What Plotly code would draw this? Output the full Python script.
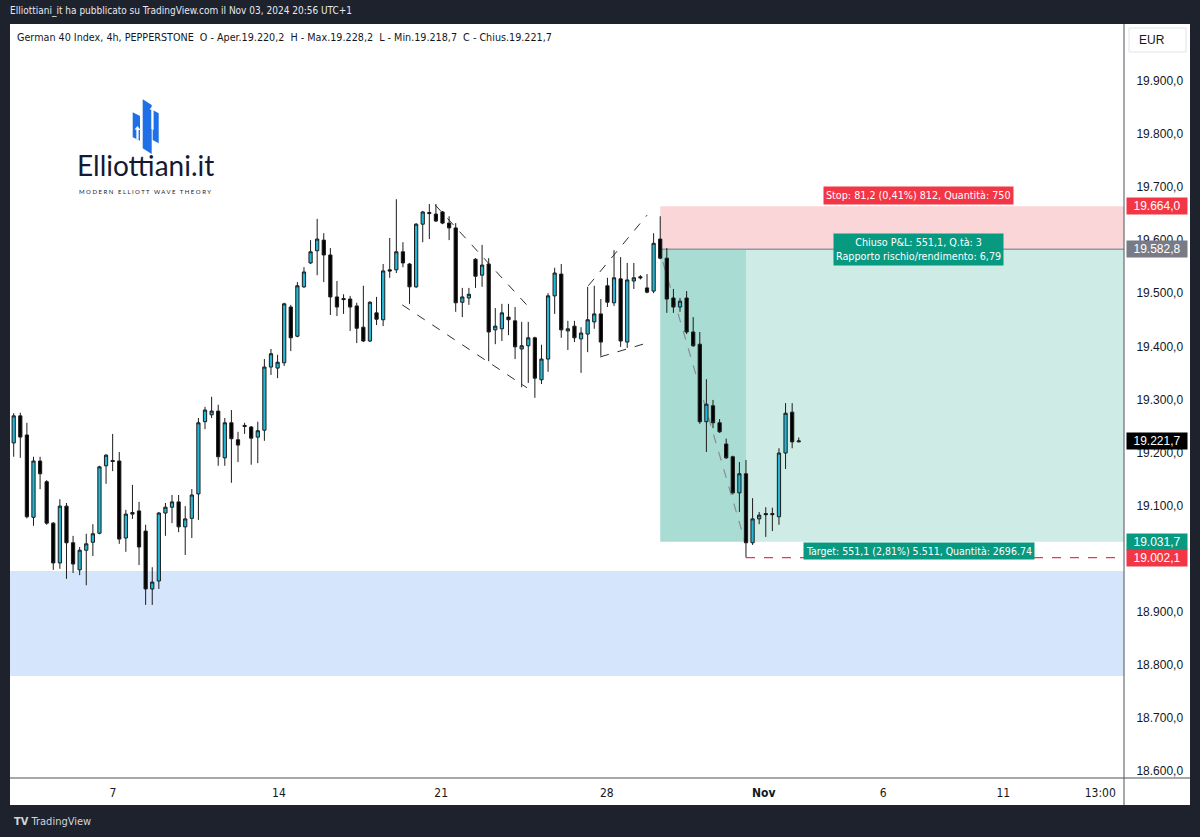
import plotly.graph_objects as go

# ---------------- data ----------------
opens = [19218, 19269, 19233, 19078, 19184, 19145, 19067, 18992, 19099, 19030,
         18979, 19016, 19031, 19048, 19175, 19185, 19184, 19039, 19087, 19090,
         19052, 18943, 18958, 19086, 19097, 19107, 19060, 19076, 19122, 19258,
         19271, 19278, 19190, 19256, 19224, 19251, 19248, 19229, 19242, 19361,
         19359, 19369, 19474, 19419, 19512, 19557, 19580, 19600, 19572, 19493,
         19490, 19489, 19476, 19436, 19410, 19463, 19450, 19544, 19544, 19578,
         19555, 19512, 19630, 19652, 19649, 19653, 19632, 19623, 19483, 19491,
         19564, 19534, 19555, 19431, 19433, 19455, 19448, 19395, 19401, 19416,
         19337, 19376, 19495, 19536, 19429, 19438, 19414, 19423, 19446, 19461,
         19514, 19482, 19527, 19408, 19523, 19531, 19510, 19504, 19602, 19566,
         19491, 19474, 19491, 19427, 19404, 19258, 19288, 19256, 19216, 19192,
         19124, 19160, 19030, 19075, 19085, 19085, 19079, 19199, 19276, 19220.2]
highs = [19274, 19275, 19256, 19192, 19192, 19148, 19069, 19112, 19105, 19043,
         19022, 19047, 19065, 19175, 19197, 19235, 19201, 19092, 19139, 19107,
         19064, 18984, 19088, 19105, 19120, 19120, 19099, 19131, 19265, 19286,
         19305, 19290, 19265, 19280, 19239, 19256, 19250, 19258, 19376, 19395,
         19384, 19482, 19478, 19521, 19549, 19600, 19640, 19613, 19585, 19523,
         19498, 19495, 19482, 19514, 19485, 19493, 19555, 19604, 19677, 19596,
         19557, 19632, 19655, 19668, 19668, 19655, 19645, 19632, 19510, 19510,
         19566, 19591, 19566, 19472, 19480, 19480, 19474, 19446, 19446, 19418,
         19403, 19500, 19548, 19555, 19448, 19448, 19436, 19512, 19514, 19489,
         19529, 19581, 19568, 19557, 19557, 19534, 19536, 19613, 19645, 19585,
         19508, 19491, 19504, 19455, 19427, 19338, 19299, 19263, 19226, 19194,
         19182, 19186, 19114, 19088, 19097, 19096, 19208, 19293, 19293, 19228.2]
lows = [19192, 19190, 19076, 19062, 19131, 19064, 18979, 18981, 18962, 18973,
        18969, 18950, 19005, 19046, 19141, 19165, 19028, 19013, 19075, 18988,
        18913, 18913, 18943, 19043, 19067, 19050, 19007, 19039, 19073, 19244,
        19265, 19175, 19175, 19143, 19182, 19235, 19177, 19180, 19222, 19346,
        19340, 19363, 19391, 19417, 19510, 19555, 19534, 19521, 19459, 19457,
        19461, 19429, 19406, 19408, 19408, 19440, 19438, 19529, 19538, 19549,
        19480, 19510, 19596, 19602, 19634, 19630, 19600, 19465, 19455, 19478,
        19510, 19512, 19372, 19404, 19410, 19421, 19376, 19323, 19331, 19303,
        19329, 19352, 19461, 19416, 19393, 19408, 19350, 19389, 19433, 19382,
        19474, 19476, 19399, 19397, 19508, 19526, 19500, 19500, 19564, 19463,
        19463, 19465, 19423, 19399, 19254, 19201, 19246, 19237, 19188, 19121,
        19088, 19002.1, 19026, 19065, 19041, 19052, 19064, 19169, 19208, 19218.7]
closes = [19269, 19229, 19079, 19184, 19160, 19067, 18992, 19099, 19030, 18990,
          19016, 19028, 19047, 19173, 19195, 19183, 19037, 19084, 19084, 19022,
          18943, 18956, 19086, 19097, 19107, 19060, 19075, 19120, 19256, 19280,
          19278, 19192, 19256, 19226, 19214, 19249, 19227, 19241, 19361, 19386,
          19370, 19480, 19416, 19514, 19540, 19578, 19602, 19572, 19493, 19474,
          19488, 19474, 19434, 19410, 19483, 19451, 19542, 19542, 19578, 19557,
          19512, 19630, 19653, 19650, 19636, 19632, 19623, 19482, 19493, 19498,
          19532, 19553, 19427, 19438, 19463, 19450, 19399, 19401, 19416, 19340,
          19376, 19495, 19538, 19431, 19433, 19416, 19425, 19450, 19461, 19408,
          19483, 19529, 19410, 19525, 19529, 19529, 19502, 19594, 19566, 19489,
          19474, 19485, 19427, 19401, 19258, 19291, 19256, 19239, 19190, 19124,
          19160, 19030, 19075, 19082, 19083, 19083, 19199, 19274, 19220, 19221.7]
bar_index = list(range(len(opens)))

time_tick_pos = [15.05, 40.2, 64.8, 89.9, 113.7, 131.8, 150.0, 164.7]
time_tick_labels = ["7", "14", "21", "28", "<b>Nov</b>", "6", "11", "13:00"]
# 19.000,0 is completely hidden behind the 19.002,1 label in the reference
price_ticks = [18600, 18700, 18800, 18900, 19100, 19200, 19300,
               19400, 19500, 19600, 19700, 19800, 19900]

# trade / zones
stop_level = 19664.0
entry_level = 19582.8
target_level = 19031.7
low_level = 19002.1
last_close = 19221.7
trade_start_bar = 98
trade_hit_bar = 111
demand_zone = [18779, 18977]

# pattern drawings (bar index, price)
channel_upper = [(63.9, 19666), (78.5, 19468)]
channel_lower = [(58.9, 19478), (77.8, 19322)]
wedge_upper = [(87.1, 19514), (96.0, 19647)]
wedge_lower = [(88.9, 19380), (95.4, 19404)]
decline_path = [(98.4, 19559), (110.9, 19030)]

X_MIN, X_MAX = -0.56, 168.3
Y_MIN, Y_MAX = 18587, 20007

# ---------------- geometry helpers (pixel -> paper) ----------------
L, R, T, B = 10, 1124, 24, 778
W, H = 1200, 837
def px(x):
    return (x - L) / (R - L)
def py(y):
    return (B - y) / (B - T)

FONT = "Liberation Sans, Arial, sans-serif"
NARROW = "Liberation Sans Narrow, DejaVu Sans Condensed, Liberation Sans, sans-serif"

fig = go.Figure()
fig.add_trace(go.Candlestick(
    x=bar_index, open=opens, high=highs, low=lows, close=closes,
    increasing=dict(line=dict(color="#1c1c1c", width=1), fillcolor="#22b7d6"),
    decreasing=dict(line=dict(color="#1c1c1c", width=1), fillcolor="#000000"),
    whiskerwidth=0, hoverinfo="skip", showlegend=False))

shapes = []
# white chart panel
shapes.append(dict(type="rect", xref="paper", yref="paper", x0=px(10), x1=px(1190),
                   y0=py(805), y1=py(24), fillcolor="white", line=dict(width=0), layer="below"))
# demand zone (blue)
shapes.append(dict(type="rect", xref="paper", yref="y", x0=0, x1=1,
                   y0=demand_zone[0], y1=demand_zone[1], fillcolor="#d5e5fb",
                   line=dict(width=0), layer="below"))
# stop zone
shapes.append(dict(type="rect", xref="x", yref="y", x0=trade_start_bar, x1=X_MAX,
                   y0=entry_level, y1=stop_level, fillcolor="#fbd6d9",
                   line=dict(width=0), layer="below"))
# target zone, closed part
shapes.append(dict(type="rect", xref="x", yref="y", x0=trade_start_bar, x1=trade_hit_bar,
                   y0=target_level, y1=entry_level, fillcolor="#a9dcd3",
                   line=dict(width=0), layer="below"))
# target zone, remaining part
shapes.append(dict(type="rect", xref="x", yref="y", x0=trade_hit_bar, x1=X_MAX,
                   y0=target_level, y1=entry_level, fillcolor="#cfebe6",
                   line=dict(width=0), layer="below"))
# entry line
shapes.append(dict(type="line", xref="x", yref="y", x0=trade_start_bar, x1=X_MAX,
                   y0=entry_level, y1=entry_level, line=dict(color="#9598a1", width=1.5),
                   layer="below"))
# low dashed red line
shapes.append(dict(type="line", xref="x", yref="y", x0=trade_hit_bar, x1=X_MAX,
                   y0=low_level, y1=low_level, layer="above",
                   line=dict(color="#f23645", width=1.4, dash="dash")))
# pattern lines
for seg in (channel_upper, channel_lower, wedge_upper, wedge_lower):
    shapes.append(dict(type="line", xref="x", yref="y", x0=seg[0][0], y0=seg[0][1],
                       x1=seg[1][0], y1=seg[1][1],
                       line=dict(color="#2a2e39", width=1, dash="dash")))
shapes.append(dict(type="line", xref="x", yref="y", x0=decline_path[0][0], y0=decline_path[0][1],
                   x1=decline_path[1][0], y1=decline_path[1][1],
                   line=dict(color="#8a8d96", width=1.2, dash="dash"), layer="below"))
# axis separators
shapes.append(dict(type="line", xref="paper", yref="paper", x0=1, x1=1, y0=py(805), y1=1,
                   line=dict(color="#50535e", width=1)))
shapes.append(dict(type="line", xref="paper", yref="paper", x0=0, x1=px(1190), y0=0, y1=0,
                   line=dict(color="#50535e", width=1.2)))
# EUR box
shapes.append(dict(type="rect", xref="paper", yref="paper", x0=px(1129), x1=px(1186),
                   y0=py(52), y1=py(28), fillcolor="white", line=dict(color="#e0e3eb", width=1)))

# logo icon
def poly(pts, color):
    d = "M " + " L ".join(f"{px(x):.5f},{py(y):.5f}" for x, y in pts) + " Z"
    return dict(type="path", xref="paper", yref="paper", path=d, fillcolor=color,
                line=dict(width=0))
BLUE = "#1f6fe6"
shapes.append(poly([(132.7, 112.3), (140, 116), (140, 140.7), (132.7, 137.3)], BLUE))
shapes.append(poly([(142.7, 99.3), (151.7, 105), (151.7, 154), (142.7, 148.3)], BLUE))
shapes.append(poly([(152.7, 110), (158.7, 113.3), (158.7, 143.3), (152.7, 140)], BLUE))
shapes.append(poly([(137.5, 126), (140.5, 130), (138.6, 130), (138.6, 140), (136.4, 139), (136.4, 129.5), (134.5, 129.5)], "white"))
shapes.append(poly([(152.5, 106), (155.5, 110), (153.6, 110), (153.6, 130), (151.4, 129), (151.4, 109.5), (149.5, 109.5)], "white"))

annotations = []
# header
annotations.append(dict(xref="paper", yref="paper", x=px(8), y=py(11), xanchor="left", yanchor="middle",
                        text="Elliottiani_it ha pubblicato su TradingView.com il Nov 03, 2024 20:56 UTC+1",
                        showarrow=False, font=dict(family=NARROW, size=10, color="#e6e8ee")))
# legend line
annotations.append(dict(xref="paper", yref="paper", x=px(15), y=py(37), xanchor="left", yanchor="middle",
                        text="German 40 Index, 4h, PEPPERSTONE  O - Aper.19.220,2  H - Max.19.228,2  L - Min.19.218,7  C - Chius.19.221,7",
                        showarrow=False, font=dict(family=NARROW, size=10.7, color="#131722")))
# logo text
annotations.append(dict(xref="paper", yref="paper", x=px(145), y=py(183), xanchor="center", yanchor="bottom",
                        text="Elliottiani.it", showarrow=False, borderpad=0,
                        font=dict(family="Lato, Inter, sans-serif", size=28, color="#141a33")))
annotations.append(dict(xref="paper", yref="paper", x=px(145), y=py(187), xanchor="center", yanchor="top",
                        text="M O D E R N   E L L I O T T   W A V E   T H E O R Y", showarrow=False,
                        borderpad=0,
                        font=dict(family="Lato, sans-serif", size=6, color="#141a33")))
# trade labels
LBL_X = 137.2
annotations.append(dict(xref="x", yref="y", x=LBL_X, y=stop_level, xanchor="center", yanchor="bottom",
                        yshift=1, text="Stop: 81,2 (0,41%) 812, Quantità: 750", showarrow=False,
                        bgcolor="#f23645", borderpad=2,
                        font=dict(family=NARROW, size=10.7, color="white")))
annotations.append(dict(xref="x", yref="y", x=LBL_X, y=entry_level, xanchor="center", yanchor="middle",
                        text="Chiuso P&L: 551,1, Q.tà: 3<br>Rapporto rischio/rendimento: 6,79",
                        showarrow=False, bgcolor="#089981", borderpad=2, align="center",
                        font=dict(family=NARROW, size=10.7, color="white")))
annotations.append(dict(xref="x", yref="y", x=LBL_X, y=target_level, xanchor="center", yanchor="top",
                        text="Target: 551,1 (2,81%) 5.511, Quantità: 2696.74", showarrow=False,
                        bgcolor="#089981", borderpad=2,
                        font=dict(family=NARROW, size=10.5, color="white")))
# price-axis labels
def fmt(v):
    s = f"{v:,.1f}"
    return s.replace(",", "X").replace(".", ",").replace("X", ".")
for lvl, col in ((stop_level, "#f23645"), (entry_level, "#787b86"), (last_close, "#000000"),
                 (target_level, "#089981"), (low_level, "#f23645")):
    annotations.append(dict(xref="paper", yref="y", x=px(1126), y=lvl, xanchor="left", yanchor="middle",
                            text=fmt(lvl), showarrow=False, bgcolor=col, borderpad=2, width=56,
                            height=12, align="center",
                            font=dict(family=FONT, size=12, color="white")))
annotations.append(dict(xref="paper", yref="paper", x=px(1137), y=py(40), xanchor="left", yanchor="middle",
                        text="EUR", showarrow=False, font=dict(family=FONT, size=12, color="#131722")))
# footer
annotations.append(dict(xref="paper", yref="paper", x=px(12), y=py(821), xanchor="left", yanchor="middle",
                        text="<b>TV</b> TradingView", showarrow=False,
                        font=dict(family=NARROW, size=11, color="#d1d4dc")))

fig.update_layout(
    width=W, height=H,
    margin=dict(l=L, r=W - R, t=T, b=H - B, pad=0),
    paper_bgcolor="#1e222d", plot_bgcolor="white",
    separators=",.",
    showlegend=False,
    shapes=shapes, annotations=annotations,
    xaxis=dict(range=[X_MIN, X_MAX], tickvals=time_tick_pos, ticktext=time_tick_labels,
               showgrid=False, zeroline=False, showline=False, rangeslider=dict(visible=False),
               ticks="outside", ticklen=4, tickcolor="rgba(0,0,0,0)",
               tickfont=dict(family=NARROW, size=12, color="#131722"), fixedrange=True),
    yaxis=dict(range=[Y_MIN, Y_MAX], side="right", tickvals=price_ticks, tickformat=",.1f",
               showgrid=False, zeroline=False, showline=False, ticks="outside", ticklen=9,
               tickcolor="rgba(0,0,0,0)",
               tickfont=dict(family=FONT, size=12, color="#131722"), fixedrange=True),
)

fig.write_html("out.html")
